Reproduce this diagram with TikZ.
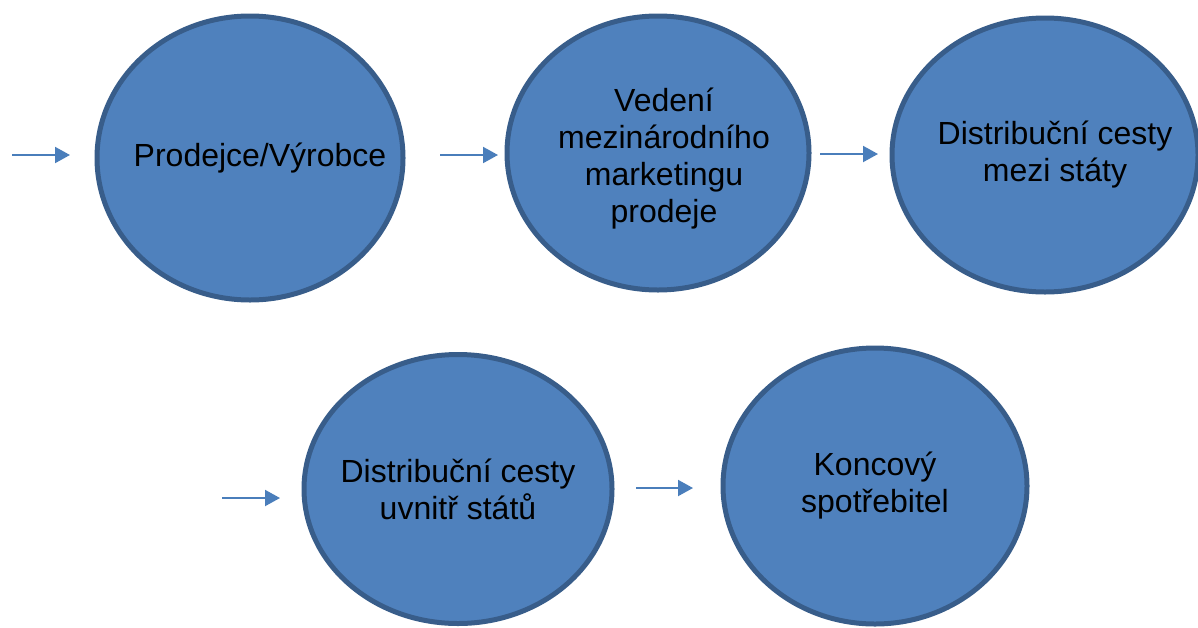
\documentclass[tikz,border=0pt]{standalone}
\usepackage{fontspec}
\setmainfont{Liberation Sans}
\usetikzlibrary{shapes.geometric,arrows.meta}

\definecolor{ovalFill}{HTML}{4F81BD}
\definecolor{ovalLine}{HTML}{385D8A}
\definecolor{arrowBlue}{HTML}{4A7EBB}

\begin{document}
\begin{tikzpicture}[x=0.5pt, y=-0.5pt,
		oval/.style={ellipse, draw=ovalLine, fill=ovalFill, line width=2.5pt,
			inner sep=0pt, minimum width=152pt, minimum height=137pt},
		ovalText/.style={align=center, font=\fontsize{16}{18.5}\selectfont},
		flow/.style={arrowBlue, line width=1pt,
			-{Triangle[length=7.5pt,width=8pt]}}]
		% Keep the size of the reference
		\useasboundingbox (0,0) rectangle (1198,627);
		
		% Draw the ovals of the first row
		\node[oval, minimum width=153pt, minimum height=142pt,
			label={[ovalText, xshift=5pt]center:Prodejce/Výrobce}] (seller) at (250,158) {};
		\node[oval, minimum width=151pt,
			label={[ovalText, xshift=3pt, yshift=-3pt]center:Vedení\\mezinárodního\\marketingu\\prodeje}] (mgmt) at (658,153) {};
		\node[oval, minimum width=153pt,
			label={[ovalText, xshift=5pt]center:Distribuční cesty\\mezi státy}] (between) at (1045,155) {};
		
		% Draw the ovals of the second row
		\node[oval, minimum width=154pt, minimum height=134.5pt,
			label={[ovalText]center:Distribuční cesty\\uvnitř států}] (within) at (458,489) {};
		\node[oval, minimum height=138pt,
			label={[ovalText]center:Koncový\\spotřebitel}] (buyer) at (875,486) {};
		
		% Ends of the arrows
		\coordinate (inA) at (12,155);
		\coordinate (inB) at (70,155);
		\coordinate (sellerOut) at (440,155);
		\coordinate (mgmtIn) at (498,155);
		\coordinate (mgmtOut) at (820,154);
		\coordinate (betweenIn) at (878,154);
		\coordinate (inC) at (222,498);
		\coordinate (withinIn) at (280,498);
		\coordinate (withinOut) at (636,488);
		\coordinate (buyerIn) at (693,488);
		
		% Draw the arrows
		\draw[flow] (inA) -- (inB);
		\draw[flow] (sellerOut) -- (mgmtIn);
		\draw[flow] (mgmtOut) -- (betweenIn);
		\draw[flow] (inC) -- (withinIn);
		\draw[flow] (withinOut) -- (buyerIn);
	\end{tikzpicture}
\end{document}
